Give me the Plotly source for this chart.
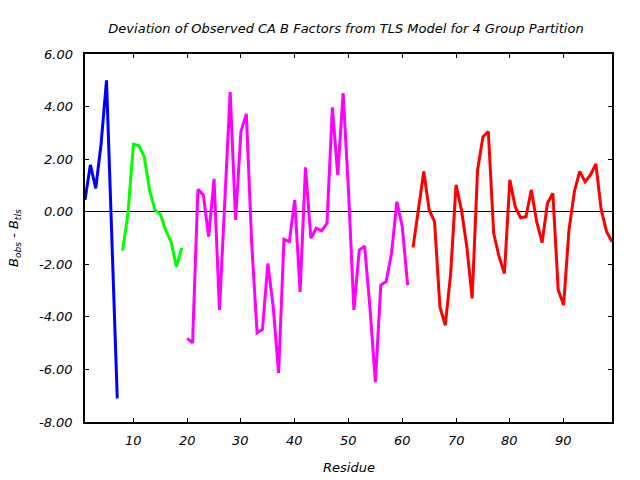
import plotly.graph_objects as go

# Residue numbers per TLS group
res_g1 = list(range(1, 8))
res_g2 = list(range(8, 20))
res_g3 = list(range(20, 62))
res_g4 = list(range(62, 100))

# B_obs - B_tls per group
val_g1 = [0.45, 1.78, 0.89, 2.6, 5.0, -1.2, -7.1]
val_g2 = [-1.48, -0.05, 2.57, 2.52, 2.10, 0.83, 0.07, -0.09, -0.70, -1.14, -2.09, -1.37]
val_g3 = [-4.82, -4.99, 0.85, 0.64, -0.95, 1.25, -3.74, 0.3, 4.55, -0.31,
          3.05, 3.72, -1.2, -4.61, -4.48, -1.97, -3.62, -6.13, -1.05, -1.14,
          0.45, -3.05, 1.69, -1.01, -0.63, -0.73, -0.44, 3.97, 1.40, 4.51,
          0.8, -3.74, -1.46, -1.31, -3.68, -6.48, -2.79, -2.66, -1.58, 0.38,
          -0.57, -2.79]
val_g4 = [-1.36, 0.07, 1.53, 0.07, -0.38, -3.62, -4.32, -2.35, 1.02, 0.07,
          -1.33, -3.30, 1.59, 2.84, 3.05, -0.82, -1.71, -2.35, 1.21, 0.19,
          -0.23, -0.19, 0.83, -0.38, -1.18, 0.32, 0.70, -2.98, -3.55, -0.70,
          0.76, 1.53, 1.14, 1.40, 1.82, 0.07, -0.76, -1.14]

group_colors = ["#0000ff", "#00ff00", "#ff00ff", "#ff0000"]

x_tickvals = [10, 20, 30, 40, 50, 60, 70, 80, 90]
x_ticktext = ["10", "20", "30", "40", "50", "60", "70", "80", "90"]
y_tickvals = [-8, -6, -4, -2, 0, 2, 4, 6]
y_ticktext = ["-8.00", "-6.00", "-4.00", "-2.00", "0.00", "2.00", "4.00", "6.00"]

FONT = "DejaVu Sans"
LBL = dict(family=FONT, size=13, style="italic", color="black")

fig = go.Figure()
for xs, ys, c in zip([res_g1, res_g2, res_g3, res_g4],
                     [val_g1, val_g2, val_g3, val_g4], group_colors):
    fig.add_trace(go.Scatter(x=xs, y=ys, mode="lines",
                             line=dict(color=c, width=3), showlegend=False))

# tick labels placed through the axis scales
for v, t in zip(y_tickvals, y_ticktext):
    fig.add_annotation(x=0, xref="paper", y=v, yref="y", text=t,
                       showarrow=False, xanchor="right", yanchor="middle",
                       xshift=-12, borderpad=0, borderwidth=0, font=LBL)
for v, t in zip(x_tickvals, x_ticktext):
    fig.add_annotation(x=v, xref="x", y=0, yref="paper", text=t,
                       showarrow=False, xanchor="center", yanchor="middle",
                       yshift=-18, borderpad=0, borderwidth=0, font=LBL)

# axis titles
fig.add_annotation(x=0.5, xref="paper", y=0, yref="paper", text="Residue",
                   showarrow=False, xanchor="center", yanchor="middle",
                   yshift=-45, font=LBL)
fig.add_annotation(x=0, xref="paper", y=0.5, yref="paper",
                   text="B<sub>obs</sub> - B<sub>tls</sub>", textangle=-90,
                   showarrow=False, xanchor="center", yanchor="middle",
                   xshift=-71, font=LBL)

fig.update_layout(
    width=640, height=480,
    margin=dict(l=85, r=28, t=54, b=58),
    paper_bgcolor="white", plot_bgcolor="white",
    font=dict(family=FONT, color="black", size=13),
    title=dict(text="Deviation of Observed CA B Factors from TLS Model for 4 Group Partition",
               x=346 / 640, xanchor="center", y=1 - 28 / 480, yanchor="middle",
               font=dict(family=FONT, size=13, style="italic", color="black")),
)

fig.update_xaxes(
    range=[1, 99], tickvals=x_tickvals, ticks="inside", ticklen=4,
    tickcolor="black", showgrid=False, zeroline=False, showticklabels=False,
    showline=True, linecolor="black", linewidth=1.5, mirror="ticks",
    automargin=False,
)
fig.update_yaxes(
    range=[-8, 6], tickvals=y_tickvals,
    ticks="inside", ticklen=4, tickcolor="black", showgrid=False,
    zeroline=True, zerolinecolor="black", zerolinewidth=1, showticklabels=False,
    showline=True, linecolor="black", linewidth=1.5, mirror="ticks",
    automargin=False,
)

fig.write_html("out.html")
